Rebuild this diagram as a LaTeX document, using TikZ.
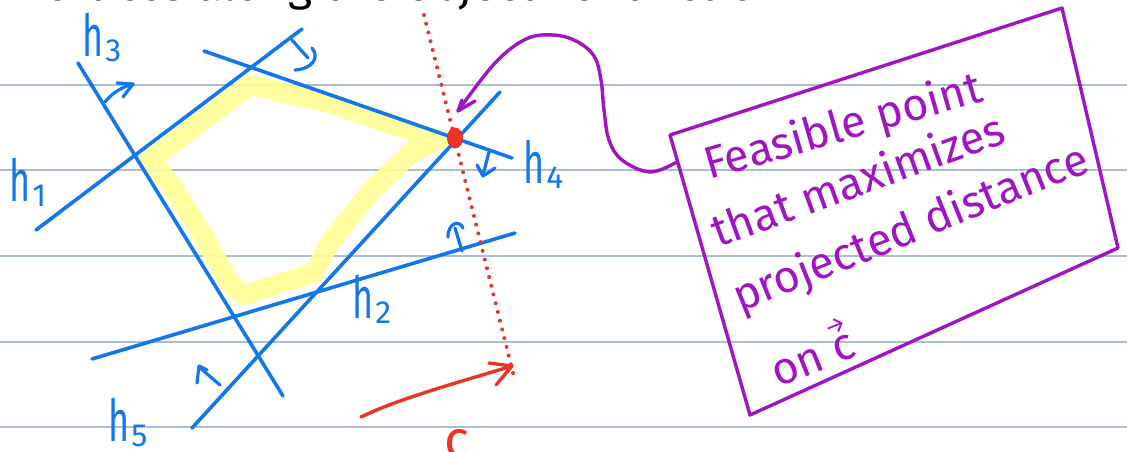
\documentclass[tikz,border=0pt]{standalone}
\usepackage{fontspec}
\setsansfont{Fira Sans}
\usetikzlibrary{calc}
\definecolor{hblue}{RGB}{18,118,236}
\definecolor{hpurple}{RGB}{160,20,195}
\definecolor{hred}{RGB}{235,52,35}
\definecolor{rulecol}{RGB}{172,190,214}
\definecolor{hyellow}{RGB}{255,255,150}
\newcommand\hlab[1]{\scalebox{0.62}[1]{h}\kern2pt\raisebox{-5pt}{\fontsize{32}{32}\selectfont #1}}
\newcommand\vecc{\makebox[0pt][l]{\kern1pt\raisebox{0.62em}{\fontsize{24}{24}\selectfont\char"2192}}c}
\tikzset{
  rule/.style={rulecol, line width=1.6pt},
  bline/.style={hblue, line width=3.6pt, line cap=round, line join=round},
  bmark/.style={hblue, line width=3.2pt, line cap=round, line join=round},
  hnode/.style={hblue, anchor=base west, inner sep=0pt, font=\sffamily\fontsize{58}{58}\selectfont},
  ptext/.style={hpurple, anchor=base west, inner sep=0pt, font=\sffamily\fontsize{45}{45}\selectfont},
  pline/.style={hpurple, line width=3.4pt, line cap=round, line join=round},
  rline/.style={hred, line width=3.4pt, line cap=round, line join=round},
}
\begin{document}
\begin{tikzpicture}[x=1pt,y=-1pt]
\useasboundingbox (0,0) rectangle (1127,451);
\fill[white] (0,0) rectangle (1127,451);
% ruled lines
\foreach \yy in {85,170,256,342,427} \draw[rule] (0,\yy) -- (1127,\yy);
% cut-off heading
\node[anchor=base west, inner sep=0pt, font=\sffamily\fontsize{46}{46}\selectfont] (title) at (20,0) {Vertices along the objective function};
% yellow highlight
\draw[hyellow, line width=20pt, line join=round, opacity=0.9]
  (150,160) -- (250,85) -- (330,103) -- (438,140) -- (412,152) -- (372,190)
  -- (330,242) -- (314,273) -- (244,295) -- (230,283) -- (200,230) -- (172,186) -- cycle;
% constraint lines
\coordinate (a1) at (36,230);  \coordinate (b1) at (302,29);
\coordinate (a3) at (78,63);   \coordinate (b3) at (283,396);
\coordinate (a4) at (204,51);  \coordinate (b4) at (512,158);
\coordinate (a5) at (192,428); \coordinate (b5) at (500,92);
\coordinate (a2) at (92,359);  \coordinate (b2) at (515,233);
\draw[bline] (a1) -- (b1);
\draw[bline] (a3) -- (b3);
\draw[bline] (a4) -- (b4);
\draw[bline] (a5) -- (b5);
\draw[bline] (a2) -- (b2);
% half-plane marks
\draw[bmark] (105,102) .. controls (112,93) and (122,87) .. (133,84);
\draw[bmark] (117,83) -- (133,84) -- (123,97);
\draw[bmark] (292,40) -- (308,58);
\draw[bmark] (312,48) .. controls (320,58) and (312,69) .. (295,70);
\draw[bmark] (489,152) -- (483,175);
\draw[bmark] (477,165) -- (483,176) -- (495,168);
\draw[bmark] (462,251) -- (455,228);
\draw[bmark] (448,237) .. controls (448,222) and (460,220) .. (463,228);
\draw[bmark] (220,385) -- (199,367);
\draw[bmark] (197,383) -- (199,366) -- (207,370);
% labels
\node[hnode] (h1) at (9,201) {\hlab{1}};
\node[hnode] (h3) at (82,56) {\hlab{3}};
\node[hnode] (h4) at (523,183) {\hlab{4}};
\node[hnode] (h2) at (352,318) {\hlab{2}};
\node[hnode] (h5) at (108,441) {\hlab{5}};
% red objective
\coordinate (dtop) at (424,15);
\coordinate (dbot) at (514,377);
\draw[hred, line width=4pt, line cap=round, dash pattern=on 0pt off 9pt] (dtop) -- (dbot);
\coordinate (cs) at (361,417);
\coordinate (ce) at (512,366);
\draw[rline] (cs) .. controls (400,398) and (460,382) .. (ce);
\draw[rline] (489,363) -- (ce) -- (496,385);
\node[hred, anchor=base west, inner sep=0pt, font=\sffamily\fontsize{52}{52}\selectfont] (clab) at (444,457) {c};
\fill[hred] (455,138) ellipse [x radius=8pt, y radius=10.5pt];
\coordinate (dot) at (458,111);
% purple annotation box
\coordinate (p1) at (670,135);
\coordinate (p2) at (1062,8);
\coordinate (p3) at (1118,248);
\coordinate (p4) at (750,415);
\draw[pline] (p1) -- (p2) -- (p3) -- (p4) -- cycle;
\coordinate (boxin) at (677,162);
\draw[pline] plot[smooth, tension=0.6] coordinates {(boxin) (650,172) (622,160) (609,140) (604,110) (601,80) (594,56) (576,41) (553,35) (526,39) (495,63) (dot)};
\draw[pline] (462,100) -- (dot) -- (475,101);
\node[ptext, rotate=16] (t1) at (709,180) {Feasible point};
\node[ptext, rotate=20] (t2) at (718,248) {that maximizes};
\node[ptext, rotate=22] (t3) at (740,313) {projected distance};
\node[ptext, rotate=22] (t4) at (778,388) {on \vecc};
\end{tikzpicture}
\end{document}
